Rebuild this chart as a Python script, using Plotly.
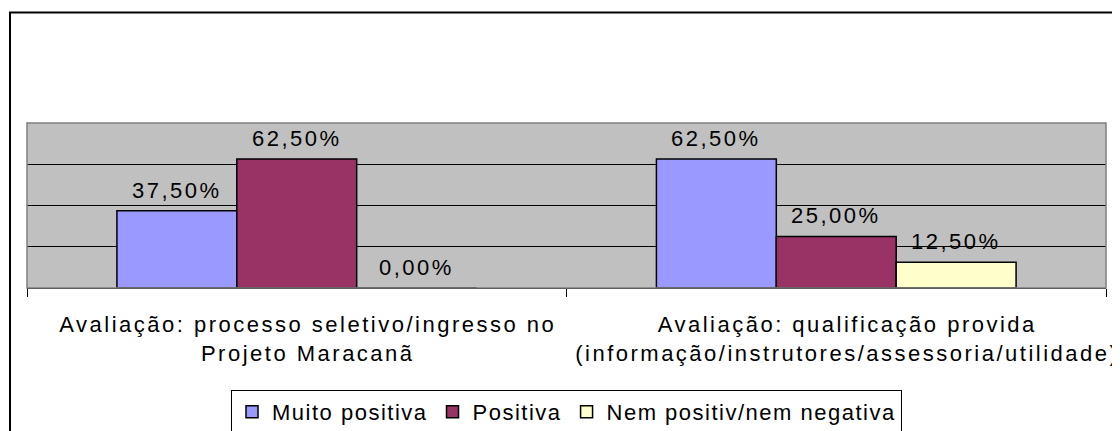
import plotly.graph_objects as go

# ---- data ----
categories = [
    "Avaliação: processo seletivo/ingresso no<br>Projeto Maracanã",
    "Avaliação: qualificação provida<br>(informação/instrutores/assessoria/utilidade)",
]
series_names = ["Muito positiva", "Positiva", "Nem positiv/nem negativa"]
muito_positiva = [0.375, 0.625]
positiva = [0.625, 0.25]
nem_positiv = [0.0, 0.125]
series_values = [muito_positiva, positiva, nem_positiv]
colors = ["#9999FF", "#993366", "#FFFFCC"]

# ---- layout geometry (pixels; page body has an 8px margin) ----
OFF = 8
W, H = 1120 - OFF, 431 - OFF
ML, MT = 27 - OFF, 123 - OFF
PW, PH = 1079, 165
MR = W - ML - PW
MB = H - MT - PH
BARGAP = 1 / 3
FONT = "Liberation Sans"
FS = 22


def px_x(px):  # reference page pixel -> paper x
    return (px - OFF - ML) / PW


def px_y(py):  # reference page pixel -> paper y
    return (MT + PH - (py - OFF)) / PH


fig = go.Figure()
for name, vals, col in zip(series_names, series_values, colors):
    fig.add_trace(go.Bar(
        name=name, x=categories, y=vals,
        marker=dict(color=col, line=dict(color="black", width=1.5)),
        hoverinfo="skip",
    ))

# data labels
bar_px = PW / len(categories) * (1 - BARGAP) / len(series_names)
annotations = []
for i, vals in enumerate(series_values):
    for c, v in zip(categories, vals):
        annotations.append(dict(
            x=c, y=v, xref="x", yref="y",
            xshift=(i - (len(series_names) - 1) / 2) * bar_px,
            yshift=6, yanchor="bottom", showarrow=False,
            text=f"{v*100:.2f}%".replace(".", ","),
        ))

shapes = [
    # plot area border
    dict(type="rect", xref="paper", yref="paper", x0=0, x1=1, y0=0, y1=1,
         line=dict(color="#808080", width=1.5), layer="above"),
    # outer chart border
    dict(type="rect", xref="paper", yref="paper",
         x0=px_x(10), x1=px_x(1140), y0=px_y(450), y1=px_y(12.5),
         line=dict(color="black", width=2), layer="above"),
]

fig.update_layout(
    width=W, height=H,
    margin=dict(l=ML, r=MR, t=MT, b=MB, autoexpand=False),
    paper_bgcolor="white", plot_bgcolor="#C0C0C0",
    barmode="group", bargap=BARGAP, bargroupgap=0,
    font=dict(family=FONT, size=FS, color="black"),
    showlegend=True,
    legend=dict(
        orientation="h", x=0.5, xanchor="center", y=px_y(390), yanchor="top",
        bordercolor="black", borderwidth=1, bgcolor="white",
        traceorder="normal",
    ),
    annotations=annotations,
    shapes=shapes,
)
fig.update_xaxes(
    showline=True, linecolor="black", linewidth=1,
    ticks="outside", tickson="boundaries", ticklen=8, tickcolor="black",
    tickangle=0, ticklabelstandoff=17, ticklabelshift=11,
    automargin=False, showgrid=False,
)
fig.update_yaxes(
    range=[0, 0.8], dtick=0.2, showticklabels=False, showgrid=True,
    gridcolor="black", gridwidth=1, zeroline=False, automargin=False,
)

# the reference text is letter-spaced; apply it with CSS and let plotly re-measure
post = """
var gd = document.getElementsByClassName('plotly-graph-div')[0];
var st = document.createElement('style');
st.textContent = 'svg text{letter-spacing:2.5px !important;} svg text.legendtext{letter-spacing:1.5px !important;}';
document.head.appendChild(st);
Plotly.relayout(gd, {'font.family': 'Liberation Sans, Arial'});
"""

fig.write_html("out.html", config={"displayModeBar": False}, post_script=post)
